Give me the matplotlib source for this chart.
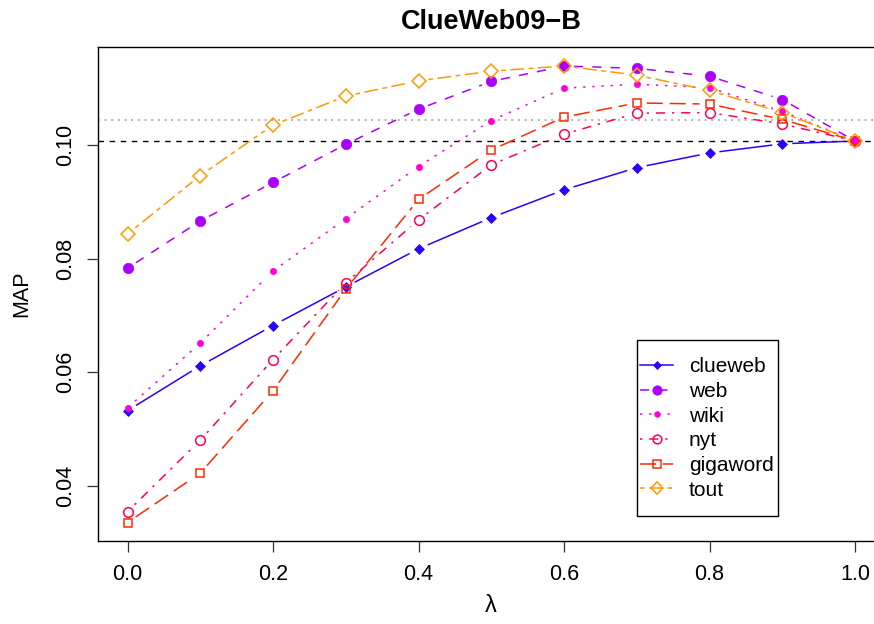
import numpy as np
import matplotlib
matplotlib.use("Agg")
import matplotlib.pyplot as plt
from matplotlib.lines import Line2D
from matplotlib.patches import Rectangle

plt.rcParams['font.family'] = ['Liberation Sans', 'DejaVu Sans']

lam = [0.0, 0.1, 0.2, 0.3, 0.4, 0.5, 0.6, 0.7, 0.8, 0.9, 1.0]
names = ["clueweb", "web", "wiki", "nyt", "gigaword", "tout"]
clueweb = [0.0532, 0.0611, 0.0682, 0.0750, 0.0817, 0.0872, 0.0921, 0.0960, 0.0986, 0.1002, 0.1007]
web = [0.0783, 0.0866, 0.0934, 0.1001, 0.1063, 0.1112, 0.1139, 0.1135, 0.1121, 0.1080, 0.1007]
wiki = [0.0537, 0.0651, 0.0778, 0.0870, 0.0962, 0.1043, 0.1100, 0.1107, 0.1101, 0.1059, 0.1007]
nyt = [0.0354, 0.0480, 0.0622, 0.0757, 0.0868, 0.0965, 0.1019, 0.1056, 0.1057, 0.1037, 0.1007]
gigaword = [0.0335, 0.0422, 0.0567, 0.0746, 0.0904, 0.0991, 0.1049, 0.1074, 0.1072, 0.1045, 0.1007]
tout = [0.0843, 0.0946, 0.1035, 0.1086, 0.1113, 0.1130, 0.1139, 0.1123, 0.1096, 0.1057, 0.1007]
series = [clueweb, web, wiki, nyt, gigaword, tout]
baseline = 0.1007
ref_line = 0.1044

colors = ["#2A00FF", "#AA00FF", "#FF00D5", "#FF0055", "#FF2A00", "#FF9900"]
lss = ["-", (0, (6, 6)), (0, (1.5, 4.5)), (0, (1.5, 4.5, 6, 4.5)), (0, (10.5, 4.5)), (0, (3, 3, 9, 3))]
markers = ["D", "o", "o", "o", "s", "D"]
msizes = [5.0, 7.5, 4.5, 7.0, 6.3, 7.2]
filled = [True, True, True, False, False, False]

W, H = 874, 624
fig = plt.figure(figsize=(W / 100, H / 100), dpi=100)
L, R, T, B = 98.4, 884.1, 47.3, 540.7
ax = fig.add_axes([L / W, 1 - B / H, (R - L) / W, (B - T) / H])
ax.set_xlim(-0.04, 1.04)
ax.set_ylim(0.0303, 0.1172)

for s in ax.spines.values():
    s.set_linewidth(1.0)
    s.set_color("black")

ax.set_xticks([0.0, 0.2, 0.4, 0.6, 0.8, 1.0])
ax.set_xticklabels(["0.0", "0.2", "0.4", "0.6", "0.8", "1.0"])
ax.set_yticks([0.04, 0.06, 0.08, 0.10])
ax.set_yticklabels(["0.04", "0.06", "0.08", "0.10"], rotation=90, va="center")
ax.tick_params(direction="out", length=8, width=0.9, labelsize=15.5, color="#333333")
ax.tick_params(axis="x", pad=9)
ax.tick_params(axis="y", pad=8)

ax.axhline(baseline, color="black", lw=1.0, ls=(0, (4, 4)), zorder=1)
ax.axhline(ref_line, color="#999999", lw=1.2, ls=(0, (1, 3)), zorder=1)

gap = 10.0
trans = ax.transData
inv = trans.inverted()
for i, ys in enumerate(series):
    pts = trans.transform(np.column_stack([lam, ys]))
    for j in range(len(pts) - 1):
        p0, p1 = pts[j], pts[j + 1]
        d = p1 - p0
        n = np.hypot(*d)
        if n <= 2 * gap:
            continue
        u = d / n
        a = inv.transform(p0 + gap * u)
        b = inv.transform(p1 - gap * u)
        ax.plot([a[0], b[0]], [a[1], b[1]], color=colors[i], ls=lss[i], lw=1.1,
                solid_capstyle="butt", dash_capstyle="butt", zorder=2 + i)
    ax.plot(lam, ys, ls="none", marker=markers[i], ms=msizes[i],
            mfc=colors[i] if filled[i] else "none", mec=colors[i], mew=1.1 if not filled[i] else 0.5,
            zorder=2 + i)

handles = []
for i in range(len(names)):
    handles.append(Line2D([0], [0], color=colors[i], ls=lss[i], lw=1.1, marker=markers[i],
                          ms=msizes[i] * 0.9, mfc=colors[i] if filled[i] else "none", mec=colors[i],
                          mew=1.1 if not filled[i] else 0.5))
leg = fig.legend(handles, names, loc="center left", bbox_to_anchor=(640 / W, 1 - 428.5 / H),
                 borderaxespad=0, frameon=False, fontsize=15, handlelength=1.6,
                 handletextpad=0.75, labelspacing=0.27, borderpad=0)
fig.patches.append(Rectangle((637 / W, 1 - 516 / H), (778 - 637) / W, (516 - 340) / H,
                             transform=fig.transFigure, fill=False, edgecolor="black", lw=1.0))

fig.text((L + R) / 2 / W, 1 - 22 / H, "ClueWeb09\u2212B", ha="center", va="center",
         fontsize=19.5, fontweight="bold")
fig.text(22 / W, 1 - 294 / H, "MAP", rotation=90, ha="center", va="center", fontsize=15.5)
fig.text((L + R) / 2 / W, 1 - 606 / H, "\u03bb", ha="center", va="center", fontsize=17)

fig.savefig("out.png", dpi=100)
